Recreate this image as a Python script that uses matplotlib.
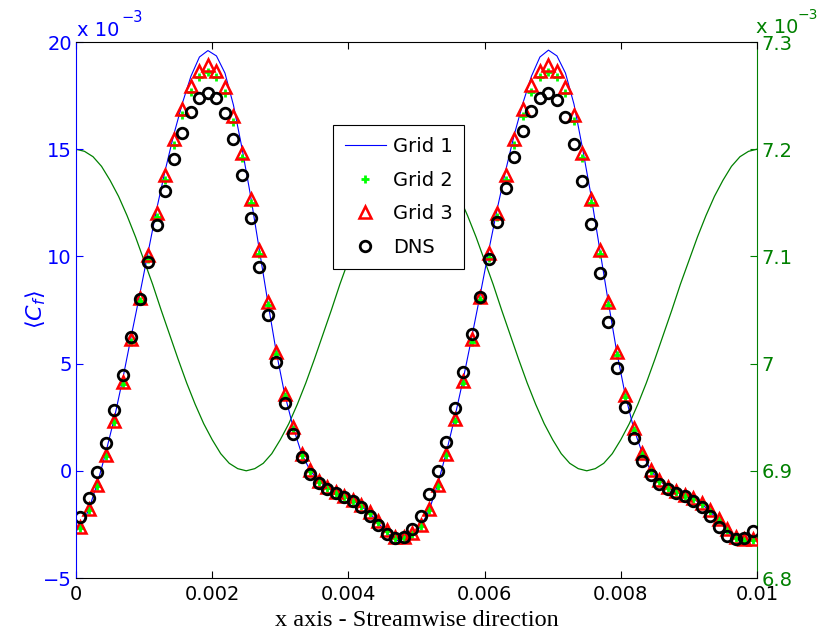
import numpy as np
import matplotlib
matplotlib.use("Agg")
import matplotlib.pyplot as plt

# ---------------- data (values in units of 1e-3) ----------------
n_pts = 80
dx = 0.000125
x_pts = [(i + 0.5) * dx for i in range(n_pts)]

grid1 = [-2.70, -1.80, -0.60, 0.85, 2.45, 4.30, 6.30, 8.25, 10.25, 12.25,
         14.05, 15.70, 17.15, 18.40, 19.30, 19.60, 19.35, 18.55, 17.05, 15.05,
         12.85, 10.40, 7.95, 5.60, 3.60, 2.05, 0.80, 0.02, -0.47, -0.80,
         -1.00, -1.20, -1.40, -1.65, -1.97, -2.42, -2.88, -3.22, -3.33, -3.00,
         -2.60, -1.82, -0.62, 0.85, 2.50, 4.30, 6.25, 8.25, 10.30, 12.25,
         14.05, 15.70, 17.15, 18.40, 19.30, 19.62, 19.35, 18.55, 17.10, 15.05,
         12.85, 10.40, 7.95, 5.60, 3.58, 2.00, 0.85, 0.02, -0.45, -0.79,
         -0.96, -1.15, -1.32, -1.55, -1.90, -2.33, -2.82, -3.18, -3.30, -3.28]

grid2 = [-2.67, -1.83, -0.71, 0.69, 2.27, 4.06, 6.03, 7.90, 9.87, 11.82,
         13.57, 15.20, 16.58, 17.66, 18.35, 18.62, 18.35, 17.60, 16.27, 14.57,
         12.48, 10.10, 7.72, 5.45, 3.50, 1.97, 0.73, -0.01, -0.51, -0.82,
         -1.02, -1.21, -1.41, -1.65, -1.96, -2.38, -2.81, -3.12, -3.15, -2.97,
         -2.58, -1.85, -0.71, 0.72, 2.32, 4.10, 6.01, 7.95, 9.93, 11.82,
         13.57, 15.20, 16.57, 17.69, 18.35, 18.62, 18.35, 17.62, 16.31, 14.57,
         12.48, 10.10, 7.72, 5.42, 3.45, 1.92, 0.79, -0.01, -0.48, -0.82,
         -0.98, -1.18, -1.33, -1.54, -1.88, -2.31, -2.78, -3.12, -3.25, -3.25]

grid3 = [-2.62, -1.78, -0.66, 0.74, 2.34, 4.16, 6.15, 8.06, 10.07, 12.04,
         13.80, 15.46, 16.87, 17.96, 18.66, 18.93, 18.66, 17.89, 16.55, 14.81,
         12.70, 10.30, 7.86, 5.56, 3.58, 2.03, 0.78, 0.04, -0.46, -0.77,
         -0.97, -1.16, -1.36, -1.60, -1.91, -2.33, -2.76, -3.07, -3.10, -2.92,
         -2.53, -1.80, -0.66, 0.78, 2.40, 4.20, 6.13, 8.12, 10.14, 12.04,
         13.80, 15.46, 16.86, 17.99, 18.66, 18.93, 18.66, 17.91, 16.60, 14.81,
         12.70, 10.30, 7.85, 5.53, 3.54, 1.98, 0.84, 0.04, -0.43, -0.77,
         -0.93, -1.13, -1.28, -1.49, -1.83, -2.26, -2.73, -3.07, -3.20, -3.20]

dns = [-2.17, -1.25, -0.07, 1.28, 2.84, 4.47, 6.23, 8.00, 9.75, 11.47,
       13.06, 14.53, 15.74, 16.72, 17.37, 17.60, 17.37, 16.67, 15.47, 13.80,
       11.78, 9.52, 7.27, 5.06, 3.18, 1.72, 0.63, -0.15, -0.55, -0.85,
       -1.05, -1.21, -1.39, -1.70, -2.09, -2.53, -2.95, -3.15, -3.10, -2.73,
       -2.09, -1.10, -0.02, 1.35, 2.91, 4.62, 6.37, 8.12, 9.86, 11.59,
       13.18, 14.65, 15.86, 16.80, 17.37, 17.60, 17.29, 16.51, 15.25, 13.53,
       11.49, 9.21, 6.92, 4.78, 2.96, 1.54, 0.46, -0.20, -0.62, -0.86,
       -1.02, -1.18, -1.41, -1.67, -2.11, -2.60, -3.04, -3.20, -3.15, -2.79]

# right-axis curve (units of 1e-3), read at x = 0, 0.000125, ..., 0.01
x_right = [i * 0.000125 for i in range(81)]
right_vals = [7.200, 7.198, 7.193, 7.184, 7.171, 7.156, 7.138, 7.118, 7.096, 7.074,
              7.050, 7.027, 7.004, 6.982, 6.962, 6.944, 6.929, 6.916, 6.907, 6.902,
              6.900, 6.902, 6.907, 6.916, 6.929, 6.944, 6.962, 6.982, 7.004, 7.027,
              7.050, 7.074, 7.096, 7.118, 7.138, 7.156, 7.171, 7.184, 7.193, 7.198,
              7.200, 7.198, 7.193, 7.184, 7.171, 7.156, 7.138, 7.118, 7.096, 7.074,
              7.050, 7.027, 7.004, 6.982, 6.962, 6.944, 6.929, 6.916, 6.907, 6.902,
              6.900, 6.902, 6.907, 6.916, 6.929, 6.944, 6.962, 6.982, 7.004, 7.027,
              7.050, 7.074, 7.096, 7.118, 7.138, 7.156, 7.171, 7.184, 7.193, 7.198,
              7.200]

x_ticks = [0, 0.002, 0.004, 0.006, 0.008, 0.01]
x_tick_labels = ["0", "0.002", "0.004", "0.006", "0.008", "0.01"]
left_ticks = [-5, 0, 5, 10, 15, 20]
right_ticks = [6.8, 6.9, 7.0, 7.1, 7.2, 7.3]
right_tick_labels = ["6.8", "6.9", "7", "7.1", "7.2", "7.3"]
legend_labels = ["Grid 1", "Grid 2", "Grid 3", "DNS"]

# ---------------- styling ----------------
plt.rcParams['font.family'] = ['DejaVu Sans']
BLUE = (0, 0, 1)
GREEN_AX = (0, 0.5, 0)
FS = 14

fig = plt.figure(figsize=(8.2, 6.34), dpi=100)
ax1 = fig.add_axes([76/820, 1 - 578/634, (757-76)/820, (578-42)/634])
ax2 = ax1.twinx()
ax1.set_zorder(ax2.get_zorder() + 1)
ax1.patch.set_visible(False)

# right axis curve
ax2.plot(x_right, right_vals, color=GREEN_AX, lw=0.9)
ax2.set_ylim(6.8, 7.3)
ax2.set_yticks(right_ticks)
ax2.set_yticklabels(right_tick_labels)
ax2.tick_params(axis='y', direction='in', colors=GREEN_AX, labelsize=FS, length=5, width=0.8, pad=3)
for s in ['left', 'top', 'bottom']:
    ax2.spines[s].set_visible(False)
ax2.spines['right'].set_color(GREEN_AX)
ax2.spines['right'].set_linewidth(0.8)

# left axis data
l1, = ax1.plot(x_pts, grid1, color=BLUE, lw=0.8)
l2, = ax1.plot(x_pts, grid2, ls='none', marker='+', ms=6, mew=2.0, color=(0, 1, 0))
l3, = ax1.plot(x_pts, grid3, ls='none', marker='^', ms=9, mew=1.8, mfc='none', mec=(1, 0, 0))
l4, = ax1.plot(x_pts, dns, ls='none', marker='o', ms=7.6, mew=2.0, mfc='none', mec='black')

ax1.set_xlim(0, 0.01)
ax1.set_ylim(-5, 20)
ax1.set_xticks(x_ticks)
ax1.set_xticklabels(x_tick_labels)
ax1.set_yticks(left_ticks)
ax1.tick_params(axis='x', direction='in', top=True, labelsize=FS, length=5, width=0.8, pad=5)
ax1.tick_params(axis='y', direction='in', colors=BLUE, labelsize=FS, length=5, width=0.8, pad=3)
ax1.spines['left'].set_color(BLUE)
ax1.spines['right'].set_visible(False)
for s in ['left', 'top', 'bottom']:
    ax1.spines[s].set_linewidth(0.8)

ax1.set_xlabel("x axis - Streamwise direction", family=['Liberation Serif', 'DejaVu Serif'],
               fontsize=17.5)
ax1.xaxis.set_label_coords(0.5, -(620 - 578) / 536)
ax1.xaxis.label.set_va('center')
ax1.set_ylabel(r"$\langle C_f\rangle$", color=BLUE, fontsize=16)
ax1.yaxis.set_label_coords(-(76 - 48) / 681, 0.5)

# exponent labels
fig.text(77/820, 1 - 36/634, "x 10", color=BLUE, fontsize=FS, ha='left', va='baseline')
fig.text(121/820, 1 - 22/634, "\u22123", color=BLUE, fontsize=10.5, ha='left', va='baseline')
fig.text(756/820, 1 - 33/634, "x 10", color=GREEN_AX, fontsize=FS, ha='left', va='baseline')
fig.text(798/820, 1 - 19/634, "\u22123", color=GREEN_AX, fontsize=10, ha='left', va='baseline')

leg = ax1.legend([l1, l2, l3, l4], legend_labels, loc='upper left',
                 bbox_to_anchor=((333-76)/681, (578-125)/536),
                 fontsize=FS, frameon=True, fancybox=False, framealpha=1,
                 edgecolor='black', handlelength=2.1, handletextpad=0.35,
                 labelspacing=0.75, borderpad=0.62, borderaxespad=0)
leg.get_frame().set_linewidth(0.8)

fig.savefig("out.png", dpi=100)
